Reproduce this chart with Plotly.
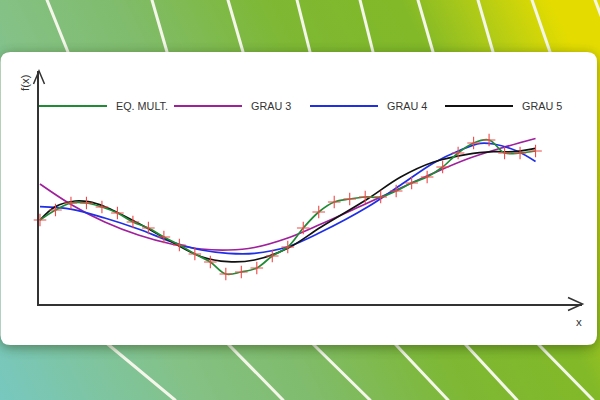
import base64
import plotly.graph_objects as go

# ---------------- data ----------------
x_pts = list(range(33))
y_pts = [8.3, 9.3, 10.0, 10.0, 9.6, 9.0, 8.1, 7.5, 6.6, 5.8, 4.9, 4.1, 2.9, 3.1, 3.5,
         4.7, 5.6, 7.5, 9.1, 10.1, 10.4, 10.6, 10.6, 11.2, 12.0, 12.6, 13.6, 15.0,
         16.0, 16.3, 15.0, 15.0, 15.2]

x_g3 = [0, 2.06, 4.18, 6.35, 8.49, 10.42, 12.14, 13.84, 16.0, 18.15, 21.15,
        23.29, 25.42, 27.59, 29.73, 32.0]
y_g3 = [11.9, 9.8, 8.1, 6.8, 5.9, 5.4, 5.3, 5.55, 6.5, 7.9, 10.0, 11.5,
        13.0, 14.4, 15.47, 16.45]

x_g4 = [0, 2.06, 4.18, 6.35, 8.49, 10.42, 12.14, 13.85, 16.0, 18.15,
        21.15, 23.29, 25.42, 27.16, 28.44, 29.28, 30.8, 32.0]
y_g4 = [9.63, 9.37, 8.5, 7.4, 6.13, 5.3, 4.97, 4.97, 5.63, 7.1, 9.6,
        11.8, 14.0, 15.3, 15.97, 15.9, 15.2, 14.15]

x_g5 = [0, 0.98, 2.27, 3.13, 4.2, 6.35, 8.49, 10.42, 12.14, 13.85, 16.0,
        18.15, 21.15, 23.29, 25.42, 27.59, 29.28, 30.57, 32.0]
y_g5 = [8.3, 9.63, 10.2, 10.13, 9.63, 7.97, 6.13, 4.63, 4.13, 4.3, 5.47,
        7.6, 10.4, 12.6, 14.1, 14.87, 15.13, 15.13, 15.47]

legend_names = ["EQ. MULT.", "GRAU 3", "GRAU 4", "GRAU 5"]
legend_colors = ["#1f8c35", "#a0209c", "#1f2fe6", "#111111"]
marker_color = "#f04848"

# ---------------- geometry helpers (plot area 39..582 x 71..304 px) ----------------
L, R, T, B = 39, 18, 71, 96
PW, PH = 600 - L - R, 400 - T - B


def px(xp):
    return (xp - L) / PW


def py(yp):
    return (400 - B - yp) / PH


# ---------------- background image (gradient + stripes + card shadow) ----------------
top_stripes = [(47, 68), (152, 167), (228, 243), (297, 310), (360, 373), (418, 433),
               (478, 493), (532, 550), (595, 615)]
bot_stripes = [(110, 175), (230, 283), (315, 370), (397, 448), (467, 517), (540, 593)]
lines = []
for a, b in top_stripes:
    ext = b + (b - a) * 10 / 52
    lines.append(f"<line x1='{a}' y1='0' x2='{ext:.1f}' y2='62'/>")
for a, b in bot_stripes:
    st = a - (b - a) * 10 / 54
    lines.append(f"<line x1='{st:.1f}' y1='336' x2='{b}' y2='400'/>")

svg = (
    "<svg xmlns='http://www.w3.org/2000/svg' width='600' height='400' viewBox='0 0 600 400'>"
    "<defs><linearGradient id='g' gradientUnits='userSpaceOnUse' x1='0' y1='400' x2='600' y2='100'>"
    "<stop offset='0' stop-color='#78c8c0'/>"
    "<stop offset='0.27' stop-color='#84c184'/>"
    "<stop offset='0.42' stop-color='#80bc6c'/>"
    "<stop offset='0.62' stop-color='#7eb834'/>"
    "<stop offset='0.8' stop-color='#82b928'/>"
    "<stop offset='0.88' stop-color='#a8c81a'/>"
    "<stop offset='1' stop-color='#e4dc00'/>"
    "</linearGradient>"
    "<filter id='b' x='-10%' y='-20%' width='120%' height='140%'><feGaussianBlur stdDeviation='6'/></filter>"
    "</defs>"
    "<rect width='600' height='400' fill='url(#g)'/>"
    "<g stroke='#f4f6ea' stroke-width='3' stroke-linecap='round'>" + "".join(lines) + "</g>"
    "<rect x='0' y='54' width='597' height='294' rx='10' fill='#1a3300' opacity='0.45' filter='url(#b)'/>"
    "</svg>"
)
bg_src = "data:image/svg+xml;base64," + base64.b64encode(svg.encode()).decode()

# ---------------- figure ----------------
fig = go.Figure()
line_w = 1.7
fig.add_trace(go.Scatter(x=x_g3, y=y_g3, mode="lines", name=legend_names[1],
                         line=dict(color=legend_colors[1], width=line_w, shape="spline")))
fig.add_trace(go.Scatter(x=x_g4, y=y_g4, mode="lines", name=legend_names[2],
                         line=dict(color=legend_colors[2], width=line_w, shape="spline")))
fig.add_trace(go.Scatter(x=x_g5, y=y_g5, mode="lines", name=legend_names[3],
                         line=dict(color=legend_colors[3], width=line_w, shape="spline")))
fig.add_trace(go.Scatter(x=x_pts, y=y_pts, mode="lines", name=legend_names[0],
                         line=dict(color=legend_colors[0], width=line_w, shape="spline")))
fig.add_trace(go.Scatter(x=x_pts, y=y_pts, mode="markers", name="pontos",
                         marker=dict(symbol="cross-thin", size=9,
                                     line=dict(color=marker_color, width=1.1)),
                         cliponaxis=False))

shapes = []
# white rounded card
x0, x1 = px(0.5), px(597)
y0, y1 = py(345), py(52)
rx, ry = 10 / PW, 10 / PH
card = (f"M {x0 + rx},{y1} L {x1 - rx},{y1} Q {x1},{y1} {x1},{y1 - ry} "
        f"L {x1},{y0 + ry} Q {x1},{y0} {x1 - rx},{y0} L {x0 + rx},{y0} "
        f"Q {x0},{y0} {x0},{y0 + ry} L {x0},{y1 - ry} Q {x0},{y1} {x0 + rx},{y1} Z")
shapes.append(dict(type="path", path=card, xref="paper", yref="paper",
                   fillcolor="white", line=dict(width=0), layer="below"))
# axis arrow heads (open chevrons)
ax_col = "#333333"
shapes.append(dict(type="path", xref="paper", yref="paper",
                   path=f"M {px(33.5)},{py(84)} L {px(39)},{py(71)} L {px(44.5)},{py(84)}",
                   line=dict(color=ax_col, width=1.5)))
shapes.append(dict(type="path", xref="paper", yref="paper",
                   path=f"M {px(568)},{py(297.5)} L {px(582.5)},{py(304)} L {px(568)},{py(310.5)}",
                   line=dict(color=ax_col, width=1.5)))

annotations = []
# manual legend
leg_y = py(106)
leg_starts = [39, 174, 310, 445]
for name, col, s in zip(legend_names, legend_colors, leg_starts):
    shapes.append(dict(type="line", xref="paper", yref="paper",
                       x0=px(s), x1=px(s + 68), y0=leg_y, y1=leg_y,
                       line=dict(color=col, width=2)))
    annotations.append(dict(xref="paper", yref="paper", x=px(s + 75), y=leg_y,
                            xanchor="left", yanchor="middle", showarrow=False,
                            text=name, font=dict(size=10.8, color="#333333",
                                                 family="Liberation Sans, Arial, sans-serif")))
annotations.append(dict(xref="paper", yref="paper", x=px(25), y=py(83), text="f(x)",
                        textangle=-90, showarrow=False, xanchor="center", yanchor="middle",
                        font=dict(size=11.5, color="#333333",
                                  family="Liberation Sans, Arial, sans-serif")))
annotations.append(dict(xref="paper", yref="paper", x=px(578.5), y=py(322), text="x",
                        showarrow=False, xanchor="center", yanchor="middle",
                        font=dict(size=11.5, color="#333333",
                                  family="Liberation Sans, Arial, sans-serif")))

fig.update_layout(
    width=600, height=400, autosize=False,
    margin=dict(l=L, r=R, t=T, b=B, pad=0),
    paper_bgcolor="#7db733", plot_bgcolor="rgba(0,0,0,0)",
    showlegend=False,
    shapes=shapes, annotations=annotations,
    images=[dict(source=bg_src, xref="paper", yref="paper",
                 x=px(0), y=py(0), sizex=600 / PW, sizey=400 / PH,
                 xanchor="left", yanchor="top", sizing="stretch", layer="below")],
    xaxis=dict(range=[-0.064, 35.0], showgrid=False, zeroline=False, showticklabels=False,
               ticks="", showline=True, linecolor=ax_col, linewidth=1.5, fixedrange=True),
    yaxis=dict(range=[-0.1, 23.2], showgrid=False, zeroline=False, showticklabels=False,
               ticks="", showline=True, linecolor=ax_col, linewidth=1.5, fixedrange=True),
)

fig.write_html("out.html", config={"displayModeBar": False})
